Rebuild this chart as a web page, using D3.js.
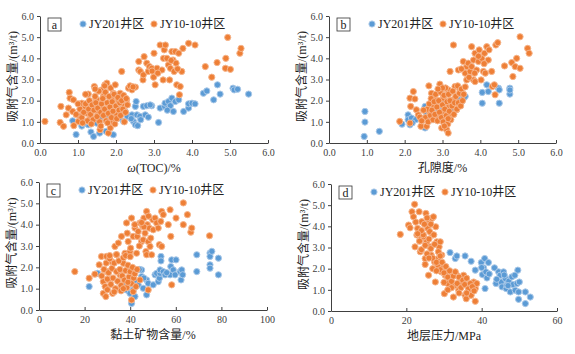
<!DOCTYPE html>
<html><head><meta charset="utf-8">
<script src="https://cdn.jsdelivr.net/npm/d3@7"></script>
<style>body{margin:0;background:#fff;}svg{display:block;}</style>
</head><body>
<svg id="c" width="575" height="354"></svg>
<script>
const seriesNames = ["JY201井区", "JY10-10井区"];
const panelLetters = ["a", "b", "c", "d"];
const xTitles = ["ω(TOC)/%", "孔隙度/%", "黏土矿物含量/%", "地层压力/MPa"];
const yTitle = "吸附气含量/(m³/t)";
const xDomains = [[0, 6], [0, 6], [0, 100], [0, 60]];
const xTickVals = [[0,1,2,3,4,5,6],[0,1,2,3,4,5,6],[0,20,40,60,80,100],[0,20,40,60]];
const yTickVals = [0,1,2,3,4,5,6];

// Panel a: TOC vs adsorbed gas
const blueA = [[0.95,0.4],[1.1,0.8],[1.27,0.86],[1.34,0.52],[1.41,0.31],[1.57,0.47],[1.74,0.55],[1.93,0.39],[0.86,1.05],[1.21,1.0],[1.58,1.18],[1.85,1.4],[2.09,1.18],[2.2,1.02],[2.3,1.26],[2.42,1.33],[2.46,1.02],[2.51,0.86],[2.57,0.82],[2.51,1.73],[2.53,1.96],[2.55,1.33],[2.63,1.26],[2.72,1.73],[2.77,1.33],[2.81,1.76],[2.85,1.22],[2.94,1.76],[3.12,0.97],[3.16,1.65],[3.28,1.73],[3.29,1.88],[3.38,1.96],[3.43,1.76],[3.47,2.12],[3.51,1.49],[3.56,1.96],[3.65,2.04],[3.78,1.49],[3.91,1.65],[3.91,1.85],[4.0,1.88],[4.08,1.85],[4.3,2.35],[4.39,2.46],[4.57,2.04],[4.67,2.75],[4.74,2.31],[5.08,2.59],[5.11,2.51],[5.2,2.54],[5.49,2.31],[1.93,1.57],[2.11,1.57],[2.24,1.49],[1.76,1.33],[1.49,0.94],[1.14,0.91],[2.4,1.15],[2.65,1.1],[2.9,1.8],[3.35,1.55]];
const orangeA = [[0.13,1.02],[0.55,1.73],[0.53,0.97],[0.62,0.79],[0.69,1.33],[0.75,1.65],[0.77,2.39],[0.79,2.12],[0.88,2.04],[0.86,1.49],[0.89,0.82],[1.01,1.02],[1.05,1.26],[1.1,1.88],[1.19,1.73],[1.23,1.41],[1.27,2.31],[1.32,1.18],[1.41,1.73],[1.43,2.67],[1.49,2.04],[1.54,1.41],[1.58,1.76],[1.63,2.51],[1.67,2.2],[1.71,2.75],[1.76,2.83],[1.58,0.63],[1.8,0.47],[1.85,0.71],[1.89,1.02],[1.89,2.04],[1.93,2.35],[1.98,1.73],[2.02,1.33],[2.06,2.04],[2.11,2.35],[2.15,3.38],[2.21,1.73],[2.28,2.04],[2.33,2.59],[2.37,2.7],[2.42,2.51],[2.51,2.64],[2.6,3.85],[2.6,3.45],[2.64,3.38],[2.71,2.98],[2.72,3.22],[2.74,4.08],[2.81,3.77],[2.85,3.38],[2.88,3.61],[2.94,3.53],[2.99,3.11],[3.0,4.24],[3.03,2.75],[3.08,3.53],[3.16,4.63],[3.21,3.45],[3.24,2.98],[3.25,4.0],[3.27,4.4],[3.3,4.63],[3.34,4.0],[3.38,3.69],[3.41,2.98],[3.43,3.53],[3.47,4.32],[3.5,3.92],[3.53,3.38],[3.56,4.32],[3.58,3.77],[3.6,2.75],[3.65,4.24],[3.67,2.28],[3.69,2.67],[3.73,3.38],[3.76,4.47],[3.91,4.71],[4.08,4.63],[4.35,3.61],[4.52,3.11],[4.66,3.8],[4.89,4.0],[4.94,4.99],[4.88,3.53],[5.01,3.48],[5.26,4.24],[5.29,4.47],
[1.05,1.6],[1.1,1.2],[1.15,1.45],[1.2,1.85],[1.25,1.05],[1.28,1.6],[1.3,2.0],[1.33,1.35],[1.37,1.8],[1.4,1.1],[1.42,1.55],[1.45,2.2],[1.47,1.9],[1.5,1.25],[1.52,1.65],[1.55,2.45],[1.57,1.0],[1.6,1.45],[1.62,1.85],[1.65,2.1],[1.67,1.3],[1.7,1.6],[1.72,2.4],[1.74,1.05],[1.77,1.9],[1.8,1.4],[1.82,2.2],[1.84,1.7],[1.86,2.6],[1.88,1.2],[1.9,1.95],[1.92,1.5],[1.95,2.3],[1.97,0.9],[2.0,1.75],[2.02,1.15],[2.05,2.15],[2.08,1.55],[2.1,1.9],[2.12,1.3],[2.15,2.0],[2.18,1.6],[2.2,2.25],[2.22,1.0],[2.25,1.45],[2.27,2.1],[2.3,1.8],[1.35,0.9],[1.6,0.8],[1.78,0.95],[1.98,2.75],[1.7,2.7],[1.45,2.55],[1.2,2.3],[1.0,1.85],[0.95,1.35],[1.12,0.95],[2.45,2.65],[2.95,3.4],[3.1,3.3],[3.45,3.9],[3.62,3.5]];

// Panel b: porosity vs adsorbed gas
const blueB = [[0.93,0.31],[0.95,0.99],[0.95,1.49],[1.33,0.55],[1.93,0.89],[2.09,1.33],[2.09,1.1],[2.14,0.86],[2.18,1.18],[2.29,1.1],[2.54,1.73],[2.54,0.71],[2.58,1.41],[2.71,1.1],[2.8,1.41],[2.89,1.57],[2.98,1.49],[3.07,1.88],[3.15,1.73],[3.24,1.57],[3.33,1.88],[3.42,2.04],[3.55,2.12],[3.6,2.2],[4.05,1.88],[4.05,2.39],[4.17,2.75],[4.21,2.43],[4.48,2.59],[4.5,2.51],[4.5,1.88],[4.78,2.59],[4.78,2.31],[4.78,2.5],[2.4,1.2],[2.65,1.3],[3.5,1.95],[2.2,0.95]];
const orangeB = [[1.87,1.02],[2.14,0.94],[2.14,2.12],[2.16,1.73],[2.23,2.43],[2.27,2.08],[2.31,1.57],[2.36,1.33],[2.4,1.22],[2.43,0.79],[2.49,1.1],[2.58,0.79],[2.64,2.7],[2.67,1.41],[2.71,2.35],[2.76,1.73],[2.8,2.04],[2.84,1.26],[2.89,1.88],[2.93,2.78],[2.98,2.51],[2.98,0.71],[3.02,2.12],[3.05,1.41],[3.07,0.86],[3.11,0.63],[3.15,0.47],[3.15,2.51],[3.17,1.73],[3.2,1.26],[3.2,3.38],[3.29,2.04],[3.29,4.63],[3.33,2.67],[3.37,1.57],[3.42,3.45],[3.46,2.51],[3.51,2.35],[3.55,3.85],[3.6,3.3],[3.64,3.61],[3.64,2.98],[3.68,3.77],[3.73,3.38],[3.77,3.61],[3.77,4.55],[3.82,3.92],[3.82,2.98],[3.86,4.24],[3.86,2.9],[3.9,3.45],[3.95,3.85],[3.97,4.4],[4.02,2.98],[4.04,4.0],[4.08,3.38],[4.11,4.24],[4.13,3.3],[4.17,4.55],[4.21,3.92],[4.23,4.4],[4.3,3.38],[4.32,2.67],[4.37,2.75],[4.39,2.28],[4.41,4.63],[4.46,4.74],[4.64,3.64],[4.83,3.8],[4.86,3.14],[4.96,4.0],[4.92,3.61],[5.05,3.53],[5.05,5.02],[5.25,4.47],[5.29,4.24],
[2.55,1.2],[2.6,1.6],[2.62,1.0],[2.65,1.85],[2.68,1.3],[2.7,2.1],[2.72,1.55],[2.75,1.1],[2.78,1.95],[2.8,1.35],[2.82,2.3],[2.85,1.7],[2.87,1.05],[2.9,2.0],[2.92,1.45],[2.95,2.4],[2.97,1.2],[3.0,1.8],[3.02,1.0],[3.04,2.25],[3.06,1.6],[3.08,2.6],[3.1,1.3],[3.12,1.95],[3.14,0.9],[3.16,2.3],[3.18,1.5],[3.2,2.0],[3.22,1.1],[3.25,1.75],[3.27,2.45],[3.3,1.35],[3.32,1.9],[3.35,2.2],[3.38,1.6],[3.4,2.7],[3.42,1.9],[3.45,2.35],[3.48,1.75],[3.5,2.55],[3.53,2.0],[3.56,2.3],[3.6,2.65],[2.5,1.55],[2.45,1.05],[3.0,2.6],[2.88,2.55],[3.15,1.15],[3.05,0.8],[3.7,3.1],[3.85,3.3],[3.95,4.1],[4.1,3.75],[3.5,3.5]];

// Panel c: clay content vs adsorbed gas
const blueC = [[22,1.1],[25.7,1.72],[36.2,0.94],[37,1.18],[38.4,0.94],[39.1,1.18],[39.9,0.78],[40.6,0.31],[41.3,0.94],[42.1,0.63],[42.8,1.33],[43.5,1.18],[45,1.57],[45,1.88],[45.7,1.02],[47.2,1.41],[47.2,0.71],[47.9,1.25],[50.1,1.18],[50.9,1.65],[51.6,1.72],[52.3,1.33],[52.8,1.49],[53.1,1.72],[53.1,1.88],[53.5,2.51],[53.5,2.3],[54.5,1.8],[55.3,1.65],[57.5,1.65],[57.8,2.04],[58.2,2.35],[58.9,1.88],[59.7,1.65],[60.1,2.35],[61.9,1.8],[62.3,1.41],[62.6,1.88],[63.0,1.65],[69.2,2.59],[69.2,1.8],[75,2.67],[75,2.51],[75,2.12],[75,1.96],[75.8,2.75],[78.7,2.43],[78.7,1.65],[44,1.9],[46,1.5],[56,1.75]];
const orangeC = [[15.7,1.8],[22,1.49],[24.5,1.68],[26.4,2.12],[27.4,2.51],[28.2,1.33],[28.2,0.78],[29.3,0.63],[29.6,2.51],[29.9,1.8],[31.1,1.41],[31.8,2.27],[32.3,0.78],[33.3,2.98],[34,2.59],[34.8,3.14],[35.5,1.65],[36.2,3.45],[37,2.19],[37.7,2.66],[38.4,4.08],[38.7,3.6],[39.1,3.21],[39.9,2.74],[40.2,2.9],[40.6,4.31],[40.6,0.47],[41.3,3.45],[41.3,0.86],[42.1,3.84],[42.8,2.66],[43.1,3.45],[43.5,3.68],[44.3,4.08],[44.3,1.41],[45,3.21],[45.5,3.92],[45.7,3.29],[46,4.31],[46.5,3.6],[46.9,2.74],[47.2,4.62],[47.2,2.59],[47.5,4.0],[47.9,3.21],[47.9,0.94],[48.4,3.84],[48.7,2.98],[49,3.37],[49.4,2.59],[49.9,4.23],[50.1,3.76],[50.9,4.31],[51.6,4.08],[52.3,3.84],[52.8,3.06],[53.4,4.15],[53.8,2.98],[53.8,4.62],[54.5,4.47],[56.7,4.0],[57.5,4.7],[57.8,3.45],[58.2,1.18],[60.1,4.31],[63.3,4.0],[63.3,5.02],[65.1,4.47],[66.6,3.65],[67,3.84],[74.8,3.48],
[27.5,1.6],[28.5,1.9],[29,1.1],[29.5,2.2],[30,1.45],[30.5,1.75],[31,2.4],[31.5,1.2],[32,1.95],[32.5,1.5],[33,2.2],[33.5,1.0],[34,1.8],[34.5,1.35],[35,2.3],[35.5,1.9],[36,1.15],[36.5,1.6],[37,2.45],[37.5,1.4],[38,1.85],[38.5,1.05],[39,2.1],[39.5,1.55],[40,1.8],[40.5,1.25],[41,2.0],[41.5,1.5],[42,1.7],[42.5,1.1],[43,1.9],[30,0.95],[33,0.85],[36,0.9],[38,2.55],[34,2.6],[31,2.55],[37,1.0],[40,2.5],[39,1.3],[44,3.0],[46,3.9],[48,4.4],[42,4.0],[45,4.1]];

// Panel d: formation pressure vs adsorbed gas
const blueD = [[31.6,2.76],[33,2.48],[33.4,2.6],[35.6,2.6],[37.2,2.35],[38.3,1.93],[39.9,2.29],[40.2,1.72],[40.5,2.04],[40.8,2.48],[40.9,1.06],[41.1,1.85],[41.4,1.56],[41.8,2.29],[43.4,2.04],[43.8,1.3],[44.5,1.85],[44.9,1.69],[45.2,1.37],[45.4,1.14],[45.8,1.85],[46.3,1.53],[46.5,1.06],[46.7,1.22],[47.2,1.41],[47.6,0.9],[48,1.61],[48.3,1.25],[48.8,1.69],[48.9,0.98],[49.4,1.3],[49.6,1.93],[49.8,0.55],[49.8,0.9],[50,1.37],[51.6,0.9],[51.6,0.35],[52.9,0.66],[40,2.05],[42,1.75],[46,1.7],[47,1.2],[44,1.5]];
const orangeD = [[18.4,3.62],[20.6,4.06],[21,3.93],[21.5,4.69],[21.9,4.45],[22.2,5.04],[22.3,3.03],[22.8,3.59],[23,3.9],[23.4,4.69],[23.7,2.8],[23.9,3.43],[24.1,4.22],[24.6,3.51],[25,2.48],[25.2,4.61],[25.4,3.27],[25.7,3.9],[25.9,1.69],[26.1,4.3],[26.3,3.03],[26.6,2.64],[26.8,4.38],[27,3.59],[27.2,4.45],[27.5,2.32],[27.7,1.37],[27.8,3.98],[28.1,3.27],[28.4,2.16],[28.5,2.48],[28.7,3.03],[29,3.27],[29.3,1.85],[29.4,2.64],[29.9,2.08],[30.1,0.82],[30.3,1.69],[30.8,1.85],[31,1.3],[31.6,1.53],[32.1,1.77],[32.5,0.66],[33,1.22],[33.4,1.69],[33.9,0.98],[34.3,1.53],[34.8,1.37],[35.2,1.69],[35.6,0.74],[35.9,0.58],[36.3,1.22],[37,0.98],[37.2,0.74],[37.9,1.37],[38.3,1.06],[38.3,0.46],[38.7,1.3],
[23.5,3.3],[24,2.9],[24.5,3.6],[25,3.1],[25.5,2.7],[26,3.4],[26.5,2.95],[27,2.5],[27.5,3.15],[28,2.3],[28.5,2.8],[29,1.95],[29.5,2.3],[30,1.8],[30.5,2.1],[31,1.6],[31.5,1.9],[32,1.4],[32.5,1.65],[33,1.85],[33.5,1.3],[34,1.6],[34.5,1.1],[35,1.45],[35.5,1.25],[36,1.55],[36.5,1.05],[37,1.3],[37.5,1.15],[38,0.95],[26,2.5],[25,2.2],[27,2.0],[28,1.9],[24,3.8],[26.5,4.1],[25.5,4.4],[23,3.65],[22.5,4.2],[29,2.6],[30,1.35],[32,1.1],[34,0.85],[31,1.0],[36,0.85],[26.2,3.75],[27.3,3.6],[24.8,4.1]];

const blueSets = [blueA, blueB, blueC, blueD];
const orangeSets = [orangeA, orangeB, orangeC, orangeD];

// layout (pixel frames of each plot area)
const frames = [
  {x0:40, x1:268, y0:143, y1:16},
  {x0:329, x1:556, y0:143, y1:16},
  {x0:39, x1:267, y0:310, y1:182},
  {x0:331, x1:557, y0:311, y1:184}
];
const serif = "'Liberation Serif','Times New Roman','Noto Sans CJK SC',serif";
const axisColor = "#404040";
const blue = {fill:"#5b9bd5", stroke:"#a9c8e8"};
const orange = {fill:"#ee7f36", stroke:"#f6b48a"};
const R = 3.1;

const svg = d3.select("#c");

frames.forEach((f, i) => {
  const g = svg.append("g");
  const x = d3.scaleLinear().domain(xDomains[i]).range([f.x0, f.x1]);
  const y = d3.scaleLinear().domain([0, 6]).range([f.y0, f.y1]);

  const drawPts = (data, col) => g.append("g").selectAll("circle").data(data).join("circle")
      .attr("cx", d => x(d[0])).attr("cy", d => y(d[1])).attr("r", R)
      .attr("fill", col.fill).attr("stroke", col.stroke).attr("stroke-width", 1);
  drawPts(blueSets[i], blue);
  drawPts(orangeSets[i], orange);

  const xa = g.append("g").attr("transform", `translate(0,${f.y0})`)
    .call(d3.axisBottom(x).tickValues(xTickVals[i]).tickSizeInner(-3).tickSizeOuter(0).tickPadding(6));
  const ya = g.append("g").attr("transform", `translate(${f.x0},0)`)
    .call(d3.axisLeft(y).tickValues(yTickVals).tickSizeInner(3).tickSizeOuter(0).tickPadding(3));
  [xa, ya].forEach(a => {
    a.selectAll("path,line").attr("stroke", axisColor).attr("stroke-width", 1);
    a.selectAll("text").attr("fill", axisColor).style("font-family", serif).style("font-size", "10px");
  });

  const xt = g.append("text").attr("x", (f.x0 + f.x1) / 2).attr("y", f.y0 + 29)
    .attr("text-anchor", "middle").style("font-family", serif).style("font-size", "12px").attr("fill", "#222");
  if (i === 0) {
    xt.append("tspan").attr("font-style", "italic").text("ω");
    xt.append("tspan").text("(TOC)/%");
  } else {
    xt.text(xTitles[i]);
  }

  g.append("text").attr("transform", `translate(${f.x0 - 23},${(f.y0 + f.y1) / 2 - 3}) rotate(-90)`)
    .attr("text-anchor", "middle").style("font-family", serif).style("font-size", "12px").attr("fill", "#222")
    .text(yTitle);

  g.append("rect").attr("x", f.x0 + 8).attr("y", f.y1 + 2).attr("width", 13).attr("height", 13)
    .attr("fill", "#fff").attr("stroke", "#333").attr("stroke-width", 0.8);
  g.append("text").attr("x", f.x0 + 14.5).attr("y", f.y1 + 12.5).attr("text-anchor", "middle")
    .style("font-family", serif).style("font-size", "12px").attr("fill", "#222").text(panelLetters[i]);

  const ly = f.y1 + 8;
  [[blue, 43, seriesNames[0]], [orange, 114, seriesNames[1]]].forEach(([col, dx, name]) => {
    g.append("circle").attr("cx", f.x0 + dx).attr("cy", ly).attr("r", R)
      .attr("fill", col.fill).attr("stroke", col.stroke).attr("stroke-width", 1);
    g.append("text").attr("x", f.x0 + dx + 6).attr("y", ly + 4.2)
      .style("font-family", serif).style("font-size", "12px").attr("fill", "#222").text(name);
  });
});
</script>
</body></html>
